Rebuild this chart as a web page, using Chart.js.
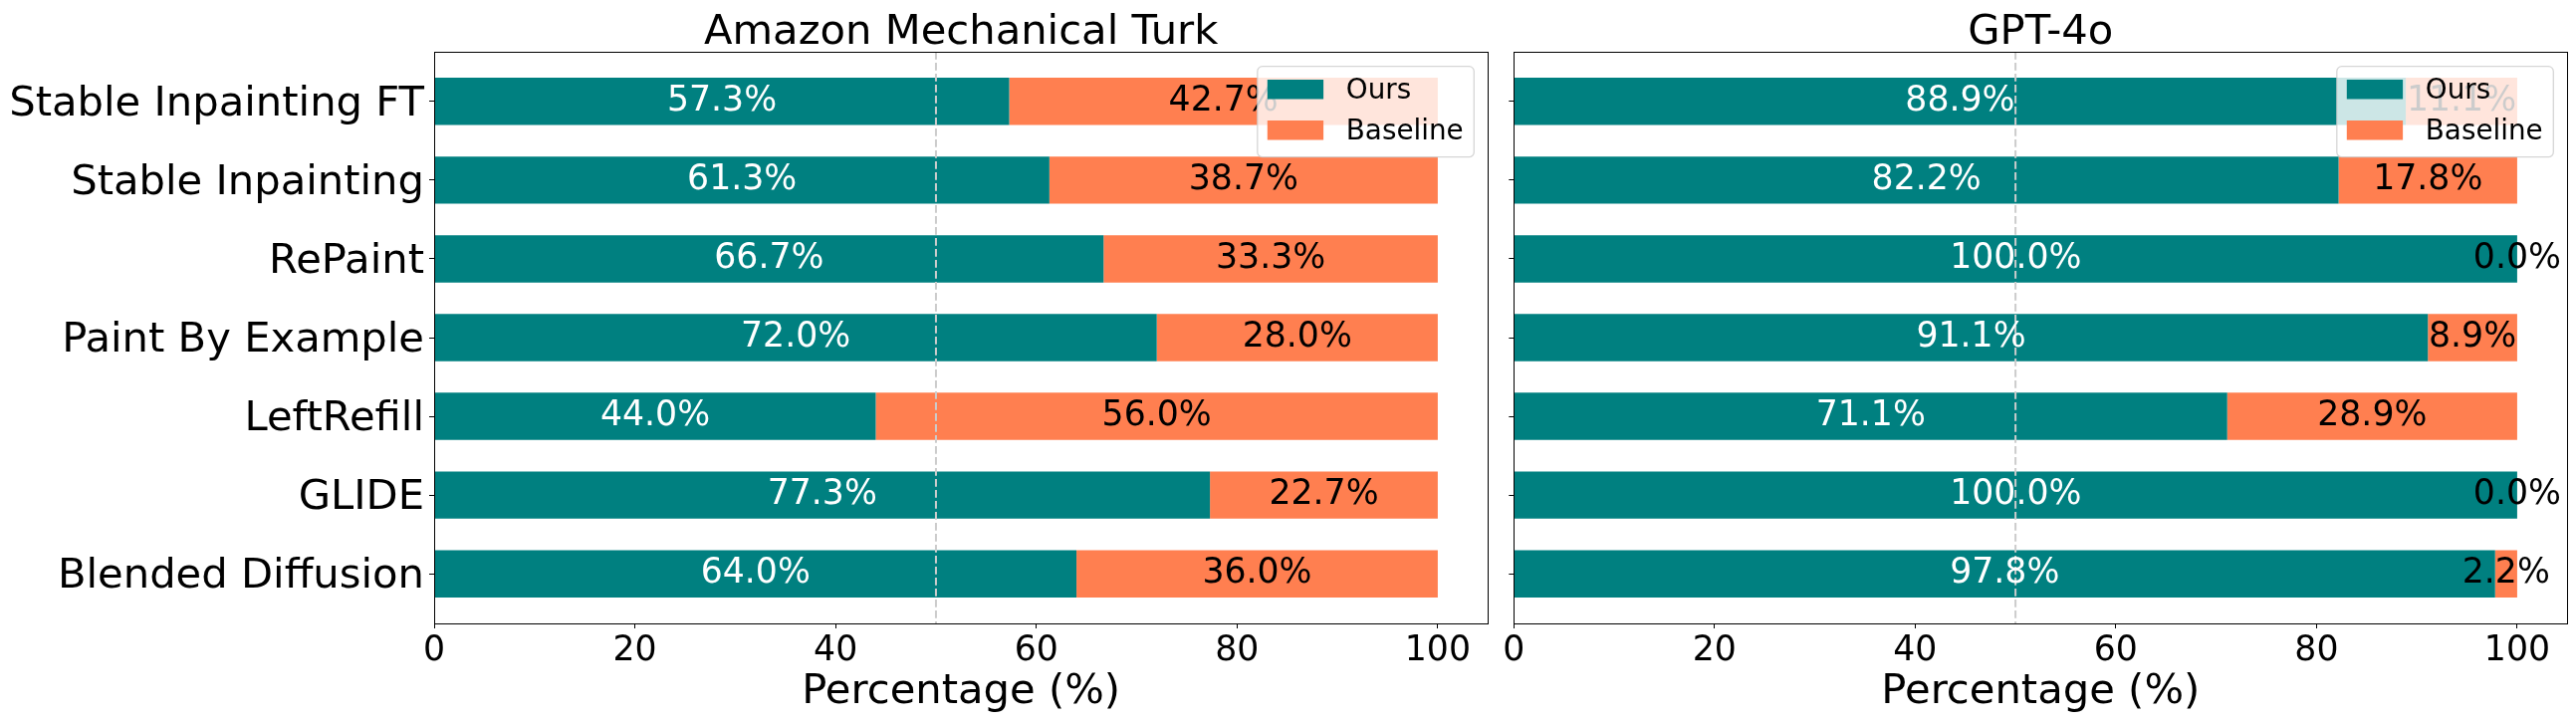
<!DOCTYPE html>
<html>
<head>
<meta charset="utf-8">
<script src="https://cdn.jsdelivr.net/npm/chart.js@4.4.1/dist/chart.umd.min.js"></script>
<style>
  body { margin: 0; background: #fff; }
  canvas { position: absolute; top: 0; }
</style>
</head>
<body>
<canvas id="mturk" width="1506" height="727" style="left:0"></canvas>
<canvas id="gpt" width="1081" height="727" style="left:1506px"></canvas>
<script>
const categories = ['Stable Inpainting FT', 'Stable Inpainting', 'RePaint', 'Paint By Example', 'LeftRefill', 'GLIDE', 'Blended Diffusion'];
const mturkOurs = [57.3, 61.3, 66.7, 72.0, 44.0, 77.3, 64.0];
const mturkBaseline = [42.7, 38.7, 33.3, 28.0, 56.0, 22.7, 36.0];
const gptOurs = [88.9, 82.2, 100.0, 91.1, 71.1, 100.0, 97.8];
const gptBaseline = [11.1, 17.8, 0.0, 8.9, 28.9, 0.0, 2.2];
const xTicks = [0, 20, 40, 60, 80, 100];
const seriesNames = ['Ours', 'Baseline'];
const seriesColors = ['#008080', '#FF7F50'];

Chart.defaults.font.family = 'DejaVu Sans';
Chart.defaults.color = '#000';

function panelPlugin(title) {
  return {
    id: 'panel',
    afterDatasetsDraw(chart) {
      const ctx = chart.ctx, area = chart.chartArea;
      const x50 = chart.scales.x.getPixelForValue(50);
      // dashed 50% line
      ctx.save();
      ctx.strokeStyle = '#cccccc';
      ctx.lineWidth = 2;
      ctx.setLineDash([7.7, 3.3]);
      ctx.beginPath();
      ctx.moveTo(x50, area.top);
      ctx.lineTo(x50, area.bottom);
      ctx.stroke();
      ctx.restore();

      // value labels
      ctx.save();
      ctx.font = '34.7px "DejaVu Sans"';
      ctx.textAlign = 'center';
      ctx.textBaseline = 'middle';
      chart.data.datasets.forEach((ds, di) => {
        ctx.fillStyle = di === 0 ? '#fff' : '#000';
        chart.getDatasetMeta(di).data.forEach((el, i) => {
          const v = ds.data[i].x;
          ctx.fillText(v.toFixed(1) + '%', (el.x + el.base) / 2, el.y);
        });
      });
      ctx.restore();
    },
    afterDraw(chart) {
      const ctx = chart.ctx, area = chart.chartArea;
      ctx.save();
      // frame
      ctx.strokeStyle = '#000';
      ctx.lineWidth = 1;
      ctx.strokeRect(Math.round(area.left) + 0.5, Math.round(area.top) + 0.5,
        Math.round(area.right - area.left), Math.round(area.bottom - area.top));

      // title
      ctx.font = '41.7px "DejaVu Sans"';
      ctx.fillStyle = '#000';
      ctx.textAlign = 'center';
      ctx.textBaseline = 'alphabetic';
      ctx.fillText(title, (area.left + area.right) / 2, 44);

      // legend
      const bw = 217.5, bh = 91;
      const bx = area.right - 14 - bw, by = area.top + 14.7;
      ctx.beginPath();
      ctx.roundRect(bx, by, bw, bh, 5);
      ctx.fillStyle = 'rgba(255,255,255,0.8)';
      ctx.fill();
      ctx.strokeStyle = 'rgba(204,204,204,0.8)';
      ctx.lineWidth = 1.3;
      ctx.stroke();
      ctx.font = '27.8px "DejaVu Sans"';
      ctx.textAlign = 'left';
      ctx.textBaseline = 'middle';
      seriesNames.forEach((name, i) => {
        const py = by + 13.3 + i * 41;
        ctx.fillStyle = seriesColors[i];
        ctx.fillRect(bx + 10, py, 56.3, 19.5);
        ctx.fillStyle = '#000';
        ctx.fillText(name, bx + 89, py + 9.75 + 2);
      });
      ctx.restore();
    }
  };
}

function makePanel(id, title, ours, baseline, showLabels, yWidth, padRight) {
  const toPoints = arr => arr.map((v, i) => ({ x: v, y: i }));
  return new Chart(document.getElementById(id), {
    type: 'bar',
    data: {
      datasets: [
        { label: seriesNames[0], data: toPoints(ours), backgroundColor: seriesColors[0] },
        { label: seriesNames[1], data: toPoints(baseline), backgroundColor: seriesColors[1] }
      ]
    },
    options: {
      indexAxis: 'y',
      responsive: false,
      animation: false,
      events: [],
      barPercentage: 0.6,
      categoryPercentage: 1,
      layout: { padding: { top: 52, right: padRight, bottom: 0, left: 0 } },
      plugins: { legend: { display: false }, title: { display: false }, tooltip: { enabled: false } },
      scales: {
        x: {
          type: 'linear',
          stacked: true,
          min: 0,
          max: 105,
          afterBuildTicks: s => { s.ticks = xTicks.map(v => ({ value: v })); },
          afterFit: s => { s.height = 101; },
          ticks: { font: { size: 34.7 }, color: '#000', padding: 2, maxRotation: 0 },
          grid: { drawOnChartArea: false, drawTicks: true, tickLength: 5, tickColor: '#000' },
          border: { display: true, color: '#000', width: 1 },
          title: { display: true, text: 'Percentage (%)', font: { size: 41.7 }, color: '#000', padding: { top: 0, bottom: 6.4 } }
        },
        y: {
          type: 'linear',
          stacked: true,
          reverse: true,
          offset: false,
          min: -0.63,
          max: 6.63,
          afterBuildTicks: s => { s.ticks = categories.map((c, i) => ({ value: i })); },
          afterFit: s => { s.width = yWidth; },
          ticks: {
            autoSkip: false,
            font: { size: 41.7 },
            color: '#000',
            padding: 5,
            labelOffset: 3,
            callback: v => showLabels ? categories[v] : ''
          },
          grid: { offset: false, drawOnChartArea: false, drawTicks: true, tickLength: 5, tickColor: '#000' },
          border: { display: true, color: '#000', width: 1 }
        }
      }
    },
    plugins: [panelPlugin(title)]
  });
}

makePanel('mturk', 'Amazon Mechanical Turk', mturkOurs, mturkBaseline, true, 436, 11.7);
makePanel('gpt', 'GPT-4o', gptOurs, gptBaseline, false, 14.3, 8.7);
</script>
</body>
</html>
